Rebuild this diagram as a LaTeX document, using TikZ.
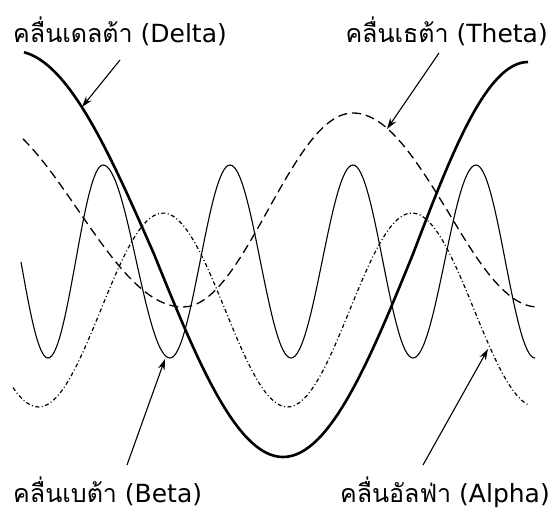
\documentclass[tikz,border=0pt]{standalone}
\usepackage{fontspec}
\setmainfont{DejaVu Sans}
\newfontfamily\thaifont[Script=Thai]{Loma}
\usetikzlibrary{arrows.meta}

\begin{document}
\begin{tikzpicture}[x=1pt, y=-1pt,
  wavelabel/.style={font=\fontsize{25}{28}\selectfont, inner sep=0pt},
  pointer/.style={-{Stealth[length=11pt,width=7pt]}, line width=1.1pt},
  deltawave/.style={line width=2.6pt},
  thetawave/.style={line width=1.3pt, dash pattern=on 9pt off 5pt},
  betawave/.style={line width=1.1pt},
  alphawave/.style={line width=1.2pt, dash pattern=on 4pt off 2.5pt on 1pt off 2.5pt}]
  \useasboundingbox (0,0) rectangle (552,514);

  % the four waves
  \draw[deltawave] plot[domain=24:154, samples=40] (\x, {254-203*cos(0.643*(\x-14))})
    sin (283,457) cos (413,254) sin (528,62);
  \draw[thetawave] plot[domain=23:78, samples=20] (\x, {210-97*cos(0.857*(\x+27))})
    sin (183,307) cos (268,210) sin (353,113) cos (447,210) sin (538,307);
  \draw[betawave] (21,262) sin (48,358) cos (75.5,262) sin (103,165)
    cos (136.5,262) sin (170,358) cos (200,262) sin (230,165)
    cos (260.5,262) sin (291,358) cos (322,262) sin (353,165)
    cos (383,262) sin (413,358) cos (444.5,262) sin (476,165)
    cos (505.5,262) sin (535,358);
  \draw[alphawave] plot[domain=13:529, samples=120] (\x, {310-97*cos(1.4458*(\x-163))});

  % labels
  \node[wavelabel, anchor=base west] (delta) at (13,42) {{\thaifont คลื่นเดลต้า} (Delta)};
  \node[wavelabel, anchor=base east] (theta) at (548,42) {{\thaifont คลื่นเธต้า} (Theta)};
  \node[wavelabel, anchor=base west] (beta) at (13,502) {{\thaifont คลื่นเบต้า} (Beta)};
  \node[wavelabel, anchor=base east] (alpha) at (550,502) {{\thaifont คลื่นอัลฟ่า} (Alpha)};

  % arrows
  \coordinate (deltatail) at (120,60);
  \coordinate (deltatip) at (82,107);
  \coordinate (thetatail) at (439,53);
  \coordinate (thetatip) at (387,129);
  \coordinate (betatail) at (127,465);
  \coordinate (betatip) at (165,359);
  \coordinate (alphatail) at (423,465);
  \coordinate (alphatip) at (488,349);
  \draw[pointer] (deltatail) -- (deltatip);
  \draw[pointer] (thetatail) -- (thetatip);
  \draw[pointer] (betatail) -- (betatip);
  \draw[pointer] (alphatail) -- (alphatip);
\end{tikzpicture}
\end{document}
